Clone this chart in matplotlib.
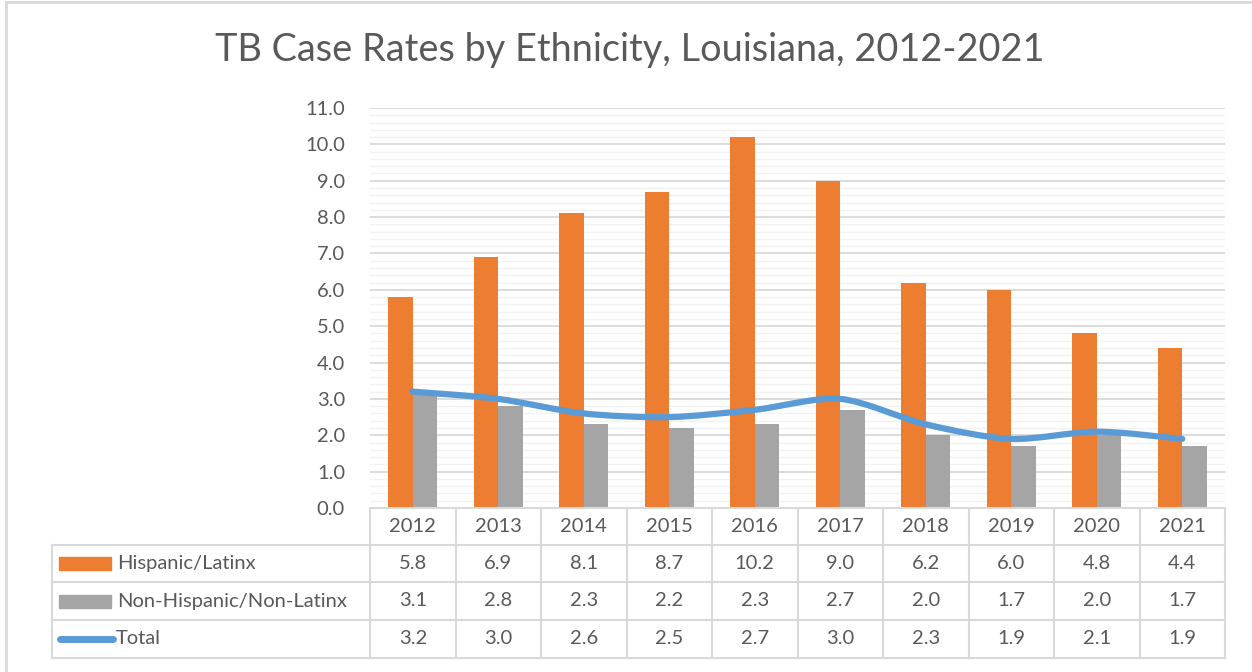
import matplotlib
matplotlib.use("Agg")
import matplotlib.pyplot as plt
from matplotlib.path import Path
from matplotlib.patches import PathPatch, Rectangle
from matplotlib.lines import Line2D
import numpy as np

plt.rcParams['font.family'] = ['Lato', 'DejaVu Sans']

years = ["2012", "2013", "2014", "2015", "2016", "2017", "2018", "2019", "2020", "2021"]
hispanic = [5.8, 6.9, 8.1, 8.7, 10.2, 9.0, 6.2, 6.0, 4.8, 4.4]
non_hispanic = [3.1, 2.8, 2.3, 2.2, 2.3, 2.7, 2.0, 1.7, 2.0, 1.7]
total = [3.2, 3.0, 2.6, 2.5, 2.7, 3.0, 2.3, 1.9, 2.1, 1.9]
series_names = ["Hispanic/Latinx", "Non-Hispanic/Non-Latinx", "Total"]
title = "TB Case Rates by Ethnicity, Louisiana, 2012-2021"

ORANGE = "#ED7D31"
GRAY = "#A5A5A5"
BLUE = "#5B9BD5"
TXT = "#595959"
BORDER = "#D9D9D9"

W, H = 1252, 672
fig = plt.figure(figsize=(W / 100, H / 100), dpi=100)
left, right, top, bottom = 370, 1225, 108, 508
ax = fig.add_axes([left / W, 1 - bottom / H, (right - left) / W, (bottom - top) / H])

x = np.arange(len(years))
bw = 0.285
ax.bar(x - bw / 2, hispanic, bw, color=ORANGE, zorder=3)
ax.bar(x + bw / 2, non_hispanic, bw, color=GRAY, zorder=3)

# smoothed line (Catmull-Rom as cubic Bezier)
pts = np.column_stack([x, total]).astype(float)
ext = np.vstack([pts[0], pts, pts[-1]])
verts = [tuple(pts[0])]
codes = [Path.MOVETO]
k = 1 / 7
for i in range(1, len(ext) - 2):
    p0, p1, p2, p3 = ext[i - 1], ext[i], ext[i + 1], ext[i + 2]
    c1 = p1 + (p2 - p0) * k
    c2 = p2 - (p3 - p1) * k
    verts += [tuple(c1), tuple(c2), tuple(p2)]
    codes += [Path.CURVE4] * 3
ax.add_patch(PathPatch(Path(verts, codes), fill=False, edgecolor=BLUE, lw=4.5,
                       capstyle='round', joinstyle='round', zorder=4))

ax.set_xlim(-0.5, len(years) - 0.5)
ax.set_ylim(0, 11)
ax.set_yticks(np.arange(0, 11.01, 1.0))
ax.set_yticks(np.arange(0, 11.01, 0.2), minor=True)
ax.set_yticklabels([f"{v:.1f}" for v in np.arange(0, 11.01, 1.0)])
fs = 14.5
ax.tick_params(axis='y', which='both', length=0, pad=18, labelsize=fs, labelcolor=TXT)
ax.tick_params(axis='x', which='both', length=0, labelbottom=False)
ax.grid(axis='y', which='major', color=BORDER, lw=1.3, zorder=0)
ax.grid(axis='y', which='minor', color="#F2F2F2", lw=1.0, zorder=0)
ax.set_axisbelow(True)
for s in ax.spines.values():
    s.set_visible(False)

# data table
row_px = [508, 545, 582, 620, 658]
def ay(py):
    return -(py - bottom) / (bottom - top)
tb = ax.get_xaxis_transform()
ta = ax.transAxes
lab_left = (52 - left) / (right - left)
lkw = dict(color=BORDER, lw=1.5, clip_on=False, zorder=5)
ax.add_line(Line2D([0, 1], [ay(508)] * 2, transform=ta, **lkw))
for py in row_px[1:]:
    ax.add_line(Line2D([lab_left, 1], [ay(py)] * 2, transform=ta, **lkw))
for b in np.arange(len(years) + 1) - 0.5:
    ax.add_line(Line2D([b, b], [ay(508), ay(658)], transform=tb, **lkw))
ax.add_line(Line2D([lab_left, lab_left], [ay(545), ay(658)], transform=ta, **lkw))

def rc(i):
    return (ay(row_px[i]) + ay(row_px[i + 1])) / 2
for i, yr in enumerate(years):
    ax.text(i, rc(0), yr, transform=tb, ha='center', va='center', fontsize=fs, color=TXT)
for r, vals in enumerate([hispanic, non_hispanic, total]):
    for i, v in enumerate(vals):
        ax.text(i, rc(r + 1), f"{v:.1f}", transform=tb, ha='center', va='center',
                fontsize=fs, color=TXT)
kx0 = (59 - left) / (right - left)
kx1 = (111 - left) / (right - left)
kh = 13 / (bottom - top)
for r, col in enumerate([ORANGE, GRAY]):
    ax.add_patch(Rectangle((kx0, rc(r + 1) - kh / 2), kx1 - kx0, kh, transform=ta,
                           color=col, clip_on=False, zorder=5))
ax.add_line(Line2D([(60 - left) / (right - left), (113 - left) / (right - left)],
                   [rc(3)] * 2, transform=ta, color=BLUE, lw=5, solid_capstyle='round',
                   clip_on=False, zorder=5))
for r, name in enumerate(series_names):
    tx = (117 if r < 2 else 116) - left
    ax.text(tx / (right - left), rc(r + 1), name,
            transform=ta, ha='left', va='center', fontsize=fs, color=TXT)

fig.text(630 / W, 1 - 50 / H, title, ha='center', va='center', fontsize=27.3,
         color=TXT, fontweight='normal')

fig.add_artist(Line2D([6 / W, 1], [1 - 2 / H] * 2, color=BORDER, lw=2, transform=fig.transFigure))
fig.add_artist(Line2D([6 / W] * 2, [0, 1 - 2 / H], color=BORDER, lw=2, transform=fig.transFigure))

fig.savefig("out.png", dpi=100)
